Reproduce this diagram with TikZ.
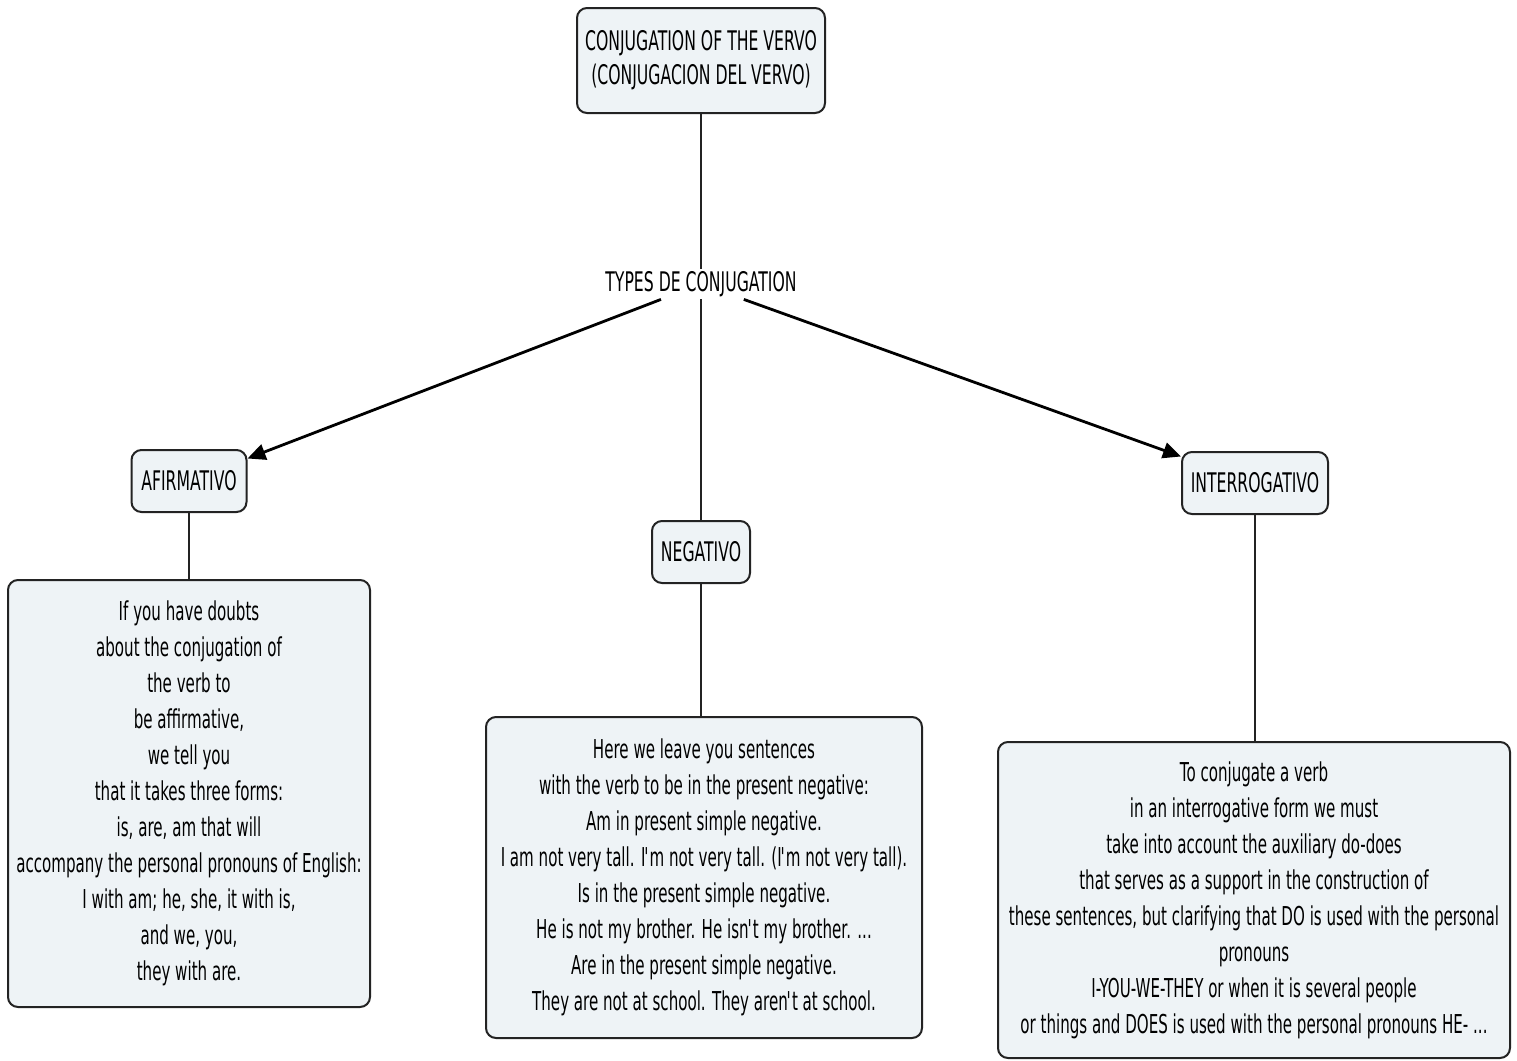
\documentclass[tikz,border=0pt]{standalone}
\usepackage{fontspec}
\setmainfont{DejaVu Sans}[FakeStretch=0.58]
\usetikzlibrary{arrows.meta}
\definecolor{boxfill}{RGB}{238,243,246}
\definecolor{boxline}{RGB}{35,35,35}
\newcommand{\ap}{\kern-0.6pt\textquotesingle\kern-0.9pt}
\begin{document}
\begin{tikzpicture}[x=0.5pt,y=-0.5pt,
  concept/.style={draw=boxline, line width=1pt, fill=boxfill, rounded corners=5pt,
    align=center, inner sep=0pt, font=\fontsize{13pt}{18pt}\selectfont},
  small/.style={font=\fontsize{13.5pt}{18pt}\selectfont},
  plain/.style={align=center, inner sep=0pt, font=\fontsize{13.5pt}{18pt}\selectfont},
  link/.style={line width=0.8pt, draw=boxline},
  arr/.style={line width=1.4pt, draw=black, -{Triangle[length=9pt,width=8pt]}}]
\useasboundingbox[fill=white] (0,0) rectangle (1517,1061);

\node[concept, minimum width=124pt, minimum height=52.5pt,
      font=\fontsize{13.5pt}{17pt}\selectfont] (top) at (701,60.5)
  {CONJUGATION OF THE VERVO\\(CONJUGACION DEL VERVO)};
\node[plain, minimum height=15pt] (types) at (701,284) {TYPES DE CONJUGATION};

\node[concept, small, minimum width=57.5pt, minimum height=31pt] (afi) at (189,481) {AFIRMATIVO};
\node[concept, small, minimum width=49pt, minimum height=31pt] (neg) at (701,552) {NEGATIVO};
\node[concept, small, minimum width=73pt, minimum height=31pt] (inter) at (1255,483) {INTERROGATIVO};

\node[concept, minimum width=181pt, minimum height=213.5pt] (ltext) at (189,793.5)
  {If you have doubts\\about the conjugation of\\the verb to\\be affirmative,\\we tell you\\that it takes three forms:\\is, are, am that will\\accompany the personal pronouns of English:\\I with am; he, she, it with is,\\and we, you,\\they with are.};
\node[concept, minimum width=218pt, minimum height=160.5pt] (mtext) at (704,877.5)
  {Here we leave you sentences\\with the verb to be in the present negative:\\Am in present simple negative.\\I am not very tall. I\ap m not very tall. (I\ap m not very tall).\\Is in the present simple negative.\\He is not my brother. He isn\ap t my brother. ...\\Are in the present simple negative.\\They are not at school. They aren\ap t at school.};
\node[concept, minimum width=256pt, minimum height=158pt] (rtext) at (1254,900)
  {To conjugate a verb\\in an interrogative form we must\\take into account the auxiliary do-does\\that serves as a support in the construction of\\these sentences, but clarifying that DO is used with the personal\\pronouns\\I-YOU-WE-THEY or when it is several people\\or things and DOES is used with the personal pronouns HE- ...};

\draw[link] (top) -- (types);
\draw[link] (types) -- (neg);
\draw[arr] (types) -- (afi);
\draw[arr] (types) -- (inter);
\draw[link] (afi) -- (afi |- ltext.north);
\draw[link] (neg) -- (neg |- mtext.north);
\draw[link] (inter) -- (inter |- rtext.north);
\end{tikzpicture}
\end{document}
